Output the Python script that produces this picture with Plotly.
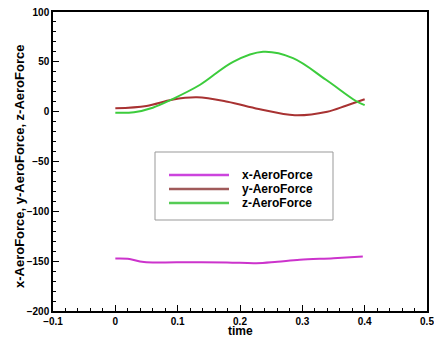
import plotly.graph_objects as go

# ---- data ----
series_names = ["x-AeroForce", "y-AeroForce", "z-AeroForce"]
x_title = "time"
y_title = "x-AeroForce, y-AeroForce, z-AeroForce"

t_x = [0.0, 0.02, 0.046, 0.10, 0.179, 0.226, 0.26, 0.296, 0.35, 0.397]
x_force = [-147.3, -147.6, -150.9, -151.1, -151.3, -152.0, -150.5, -148.7, -147.0, -145.3]

t_y = [0.0, 0.05, 0.091, 0.131, 0.18, 0.23, 0.288, 0.34, 0.37, 0.40]
y_force = [3.4, 5.8, 12.0, 14.4, 10.0, 2.7, -3.6, 0.0, 6.0, 12.4]

t_z = [0.0, 0.03, 0.06, 0.091, 0.136, 0.189, 0.237, 0.285, 0.338, 0.386, 0.40]
z_force = [-1.0, -0.5, 4.0, 12.4, 27.0, 50.0, 60.0, 53.7, 32.0, 10.7, 6.5]

colors = ["#cc33cc", "#a83232", "#3ccc3c"]
legend_colors = ["#cc44dd", "#a05a5a", "#55cc55"]

FONT = "Liberation Sans, Arial, Helvetica, sans-serif"

fig = go.Figure()
for t, v, c, n in [(t_x, x_force, colors[0], series_names[0]),
                   (t_y, y_force, colors[1], series_names[1]),
                   (t_z, z_force, colors[2], series_names[2])]:
    fig.add_trace(go.Scatter(x=t, y=v, mode="lines", name=n,
                             line=dict(color=c, width=2, shape="spline", smoothing=1.0)))

# plot-area pixel frame
L, R, B, T = 53, 427, 311, 12
W, H = R - L, B - T
def px(x): return (x - L) / W
def py(y): return (B - y) / H

# manual legend box (paper coordinates)
shapes = [dict(type="rect", xref="paper", yref="paper",
               x0=px(155), x1=px(333), y0=py(220), y1=py(152),
               line=dict(color="#999999", width=1), fillcolor="white", layer="above")]
annotations = []
for i, (n, c) in enumerate(zip(series_names, legend_colors)):
    yy = py(175 + 14 * i)
    shapes.append(dict(type="line", xref="paper", yref="paper",
                       x0=px(169), x1=px(229), y0=yy, y1=yy,
                       line=dict(color=c, width=2.5), layer="above"))
    annotations.append(dict(xref="paper", yref="paper", x=px(240), y=yy,
                            text=n, showarrow=False, xanchor="left", yanchor="middle",
                            font=dict(family=FONT, size=12, color="black", weight="bold")))

annotations.append(dict(xref="paper", yref="paper", x=0.5, y=py(339),
                        text=x_title, showarrow=False, xanchor="center", yanchor="bottom",
                        borderpad=0,
                        font=dict(family=FONT, size=12, color="black", weight="bold")))
annotations.append(dict(xref="paper", yref="paper", x=px(19), y=py(167),
                        text=y_title, showarrow=False, xanchor="center", yanchor="middle",
                        textangle=-90,
                        font=dict(family=FONT, size=13, color="black", weight="bold")))

tickfont = dict(family=FONT, size=10, color="black", weight="bold")
fig.update_layout(
    width=434, height=339,
    margin=dict(l=L, r=434 - R, t=T, b=339 - B),
    paper_bgcolor="white", plot_bgcolor="white",
    showlegend=False,
    shapes=shapes, annotations=annotations,
    xaxis=dict(range=[-0.1, 0.5], dtick=0.1, tick0=0, ticks="inside", ticklen=6,
               tickwidth=1.2, tickcolor="black", automargin=False,
               ticklabeloverflow="allow",
               minor=dict(dtick=0.02, ticks="inside", ticklen=3, tickcolor="black", tickwidth=1),
               showline=True, linecolor="black", linewidth=1.5, mirror=True,
               showgrid=False, zeroline=False, tickfont=tickfont),
    yaxis=dict(range=[-200, 100], dtick=50, ticks="inside", ticklen=6,
               tickwidth=1.2, tickcolor="black", automargin=False,
               ticklabeloverflow="allow",
               minor=dict(dtick=10, ticks="inside", ticklen=3, tickcolor="black", tickwidth=1),
               showline=True, linecolor="black", linewidth=1.5, mirror=True,
               showgrid=False, zeroline=False, tickfont=tickfont),
)

fig.write_html("out.html", config={"displayModeBar": False},
               post_script="document.body.style.margin='0';document.body.style.overflow='hidden';")
